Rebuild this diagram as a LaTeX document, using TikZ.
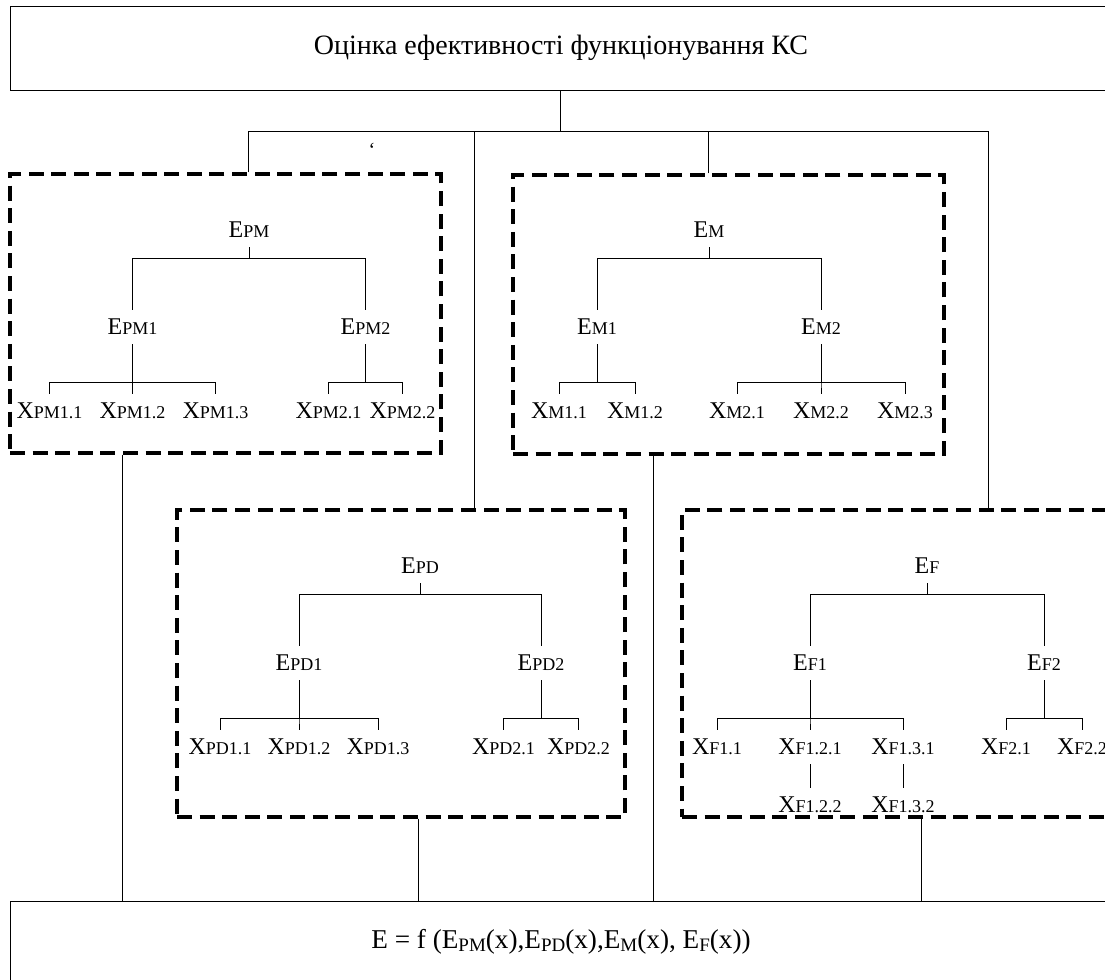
\documentclass[tikz,border=0pt]{standalone}
\usepackage{fontspec}
\setmainfont{Liberation Serif}

\newcommand{\sublbl}[2]{#1{\fontsize{9}{9}\selectfont #2}}
\newcommand{\lowsub}[1]{\raisebox{-1.5pt}{\fontsize{9.5}{9.5}\selectfont #1}}

\begin{document}
\begin{tikzpicture}[x=0.5pt, y=-0.5pt, line width=0.5pt,
    lbl/.style = {font=\fontsize{12}{12}\selectfont, inner xsep=1pt, inner ysep=4.5pt},
    every child node/.style = {lbl},
    dbox/.style 2 args = {draw, line width=1.6pt, dash pattern=on 7.5pt off 3.8pt,
      minimum width=#1, minimum height=#2, inner sep=0pt},
    spread/.style = {level 2/.append style={sibling distance=#1}},
    level 1/.style = {level distance=48.5pt,
      edge from parent path={(\tikzparentnode.south) -- ++(0,-5.5pt) -| (\tikzchildnode.north)}},
    level 2/.style = {level distance=42pt,
      edge from parent path={(\tikzparentnode.south) -- ++(0,-19pt) -| (\tikzchildnode.north)}},
    level 3/.style = {level distance=29pt,
      edge from parent path={(\tikzparentnode.south) -- (\tikzchildnode.north)}},
    ]
    \useasboundingbox (0,0) rectangle (1105,980);

    % top and bottom boxes
    \node[draw, minimum width=551pt, minimum height=42pt, font=\fontsize{14}{14}\selectfont]
      (top) at (561,48) {Оцінка ефективності функціонування КС};
    \node[draw, anchor=north, minimum width=551pt, inner sep=0pt, text height=23.5pt, text depth=26pt,
      font=\fontsize{13.6}{13.6}\selectfont] (res) at (561,901)
      {E = f (E\lowsub{PM}(x),E\lowsub{PD}(x),E\lowsub{M}(x), E\lowsub{F}(x))};

    % dashed groups
    \node[dbox={215.5pt}{139.5pt}] (pm) at (225.5,313.5) {};
    \node[dbox={215.5pt}{139.5pt}] (m) at (728.5,314.5) {};
    \node[dbox={224pt}{153.5pt}] (pd) at (401,663.5) {};
    \node[dbox={221.5pt}{153.5pt}] (f) at (903.5,663.5) {};

    \node[font=\fontsize{10}{10}\selectfont] (tick) at (372,150) {`};

    % wiring
    \coordinate (bus) at (560,131);
    \draw (top.south -| bus) -- (bus);
    \foreach \b/\x in {pm/248, pd/474, m/708, f/988}
      \draw (\b.north -| \x,0) |- (bus);
    \foreach \b/\x in {pm/122, pd/418, m/653, f/921}
      \draw (\b.south -| \x,0) -- (res.north -| \x,0);

    % trees
    \node[lbl] (epm) at (249,230) {\sublbl{E}{PM}} [sibling distance=116.5pt]
      child[spread=41.5pt] { node (epm1) {\sublbl{E}{PM1}}
        child { node (xpm11) {\sublbl{X}{PM1.1}} }
        child { node (xpm12) {\sublbl{X}{PM1.2}} }
        child { node (xpm13) {\sublbl{X}{PM1.3}} } }
      child[spread=37pt] { node (epm2) {\sublbl{E}{PM2}}
        child { node (xpm21) {\sublbl{X}{PM2.1}} }
        child { node (xpm22) {\sublbl{X}{PM2.2}} } };

    \node[lbl] (em) at (709,230) {\sublbl{E}{M}} [sibling distance=112pt]
      child[spread=38pt] { node (em1) {\sublbl{E}{M1}}
        child { node (xm11) {\sublbl{X}{M1.1}} }
        child { node (xm12) {\sublbl{X}{M1.2}} } }
      child[spread=42pt] { node (em2) {\sublbl{E}{M2}}
        child { node (xm21) {\sublbl{X}{M2.1}} }
        child { node (xm22) {\sublbl{X}{M2.2}} }
        child { node (xm23) {\sublbl{X}{M2.3}} } };

    \node[lbl] (epd) at (420,566) {\sublbl{E}{PD}} [sibling distance=121pt]
      child[spread=39.5pt] { node (epd1) {\sublbl{E}{PD1}}
        child { node (xpd11) {\sublbl{X}{PD1.1}} }
        child { node (xpd12) {\sublbl{X}{PD1.2}} }
        child { node (xpd13) {\sublbl{X}{PD1.3}} } }
      child[spread=37.5pt] { node (epd2) {\sublbl{E}{PD2}}
        child { node (xpd21) {\sublbl{X}{PD2.1}} }
        child { node (xpd22) {\sublbl{X}{PD2.2}} } };

    \node[lbl] (ef) at (927,566) {\sublbl{E}{F}} [sibling distance=117pt]
      child[spread=46.5pt] { node (ef1) {\sublbl{E}{F1}}
        child { node (xf11) {\sublbl{X}{F1.1}} }
        child { node (xf121) {\sublbl{X}{F1.2.1}}
          child { node (xf122) {\sublbl{X}{F1.2.2}} } }
        child { node (xf131) {\sublbl{X}{F1.3.1}}
          child { node (xf132) {\sublbl{X}{F1.3.2}} } } }
      child[spread=38pt] { node (ef2) {\sublbl{E}{F2}}
        child { node (xf21) {\sublbl{X}{F2.1}} }
        child { node (xf22) {\sublbl{X}{F2.2}} } };
\end{tikzpicture}
\end{document}
